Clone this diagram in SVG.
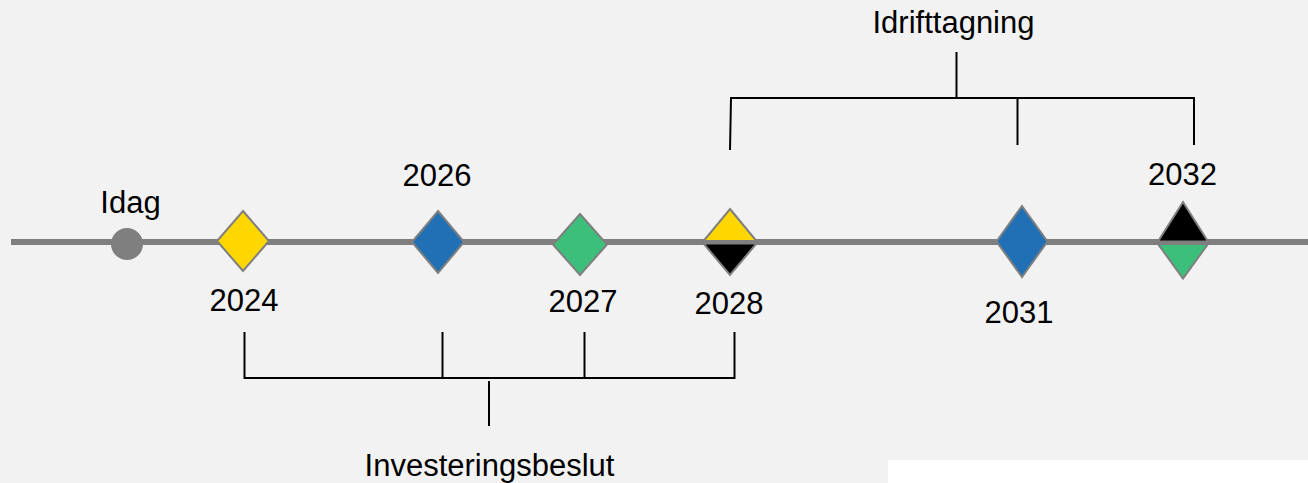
<svg xmlns="http://www.w3.org/2000/svg" width="1308" height="483" viewBox="0 0 1308 483">
<style>
text{font-family:"Liberation Sans",Arial,sans-serif;font-size:31px;fill:#000;text-anchor:middle}
.mk{stroke:#7f7f7f;stroke-width:2;stroke-linejoin:miter}
.br{stroke:#000;stroke-width:2;fill:none}
.y{fill:#ffd700}.b{fill:#2170b5}.g{fill:#3dbf7c}.k{fill:#000}
</style>
<rect width="1308" height="483" fill="#f2f2f2"/>
<rect x="888" y="460" width="420" height="23" fill="#ffffff"/>
<g id="connectors">
<line x1="11" y1="242" x2="1308" y2="242" stroke="#7f7f7f" stroke-width="6"/>
<g id="bracket-invest" class="br">
<path d="M244.5 332V378M442.5 332V378M584.5 332V378M734.5 332V378M243.5 378H735.5"/>
<path d="M489 381V426"/>
</g>
<g id="bracket-drift" class="br">
<path d="M730 150L731 98M1017.5 98V145M1194 98V145M730 98H1195"/>
<path d="M956.5 52V97"/>
</g>
</g>
<g id="idag"><circle cx="127" cy="244" r="16" fill="#7f7f7f"/><text x="130.5" y="213">Idag</text></g>
<g id="m2024"><polygon class="mk y" points="243,211 269,241 243,271 217,241"/><text x="244" y="311">2024</text></g>
<g id="m2026"><polygon class="mk b" points="438,211 464,242 438,273 412,242"/><text x="437" y="186">2026</text></g>
<g id="m2027"><polygon class="mk g" points="580,214 607,244.5 580,275 553,244.5"/><text x="583" y="312">2027</text></g>
<g id="m2028"><polygon class="mk y" points="730,209 756.5,241 703.5,241"/><polygon class="mk k" points="703.5,243.5 756.5,243.5 730,275"/><text x="729" y="314">2028</text></g>
<g id="m2031"><polygon class="mk b" points="1022,206 1047.5,241.5 1022,277 996.5,241.5"/><text x="1019" y="323">2031</text></g>
<g id="m2032"><polygon class="mk k" points="1183,202 1208,241.5 1158,241.5"/><polygon class="mk g" points="1158,244 1208,244 1183,278.5"/><text x="1182.5" y="185">2032</text></g>
<g id="idrifttagning"><text x="953.5" y="33">Idrifttagning</text></g>
<g id="investeringsbeslut"><text x="489.5" y="476">Investeringsbeslut</text></g>
</svg>
